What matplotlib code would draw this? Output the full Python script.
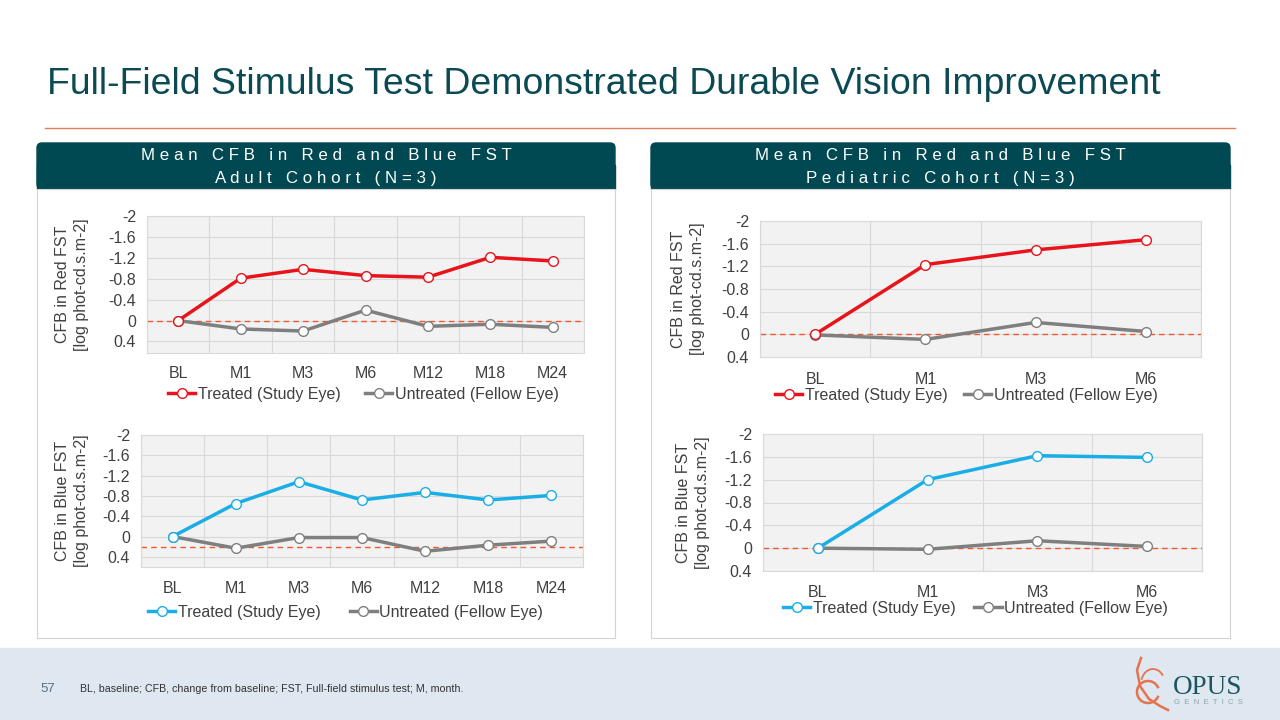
import numpy as np
import matplotlib.pyplot as plt
from matplotlib.patches import FancyBboxPatch, Rectangle, Arc
from matplotlib.lines import Line2D

plt.rcParams['font.family'] = ['Liberation Sans', 'DejaVu Sans']

W, H = 1280, 720

# --- data ---
adult_visits = ['BL', 'M1', 'M3', 'M6', 'M12', 'M18', 'M24']
ped_visits = ['BL', 'M1', 'M3', 'M6']

adult_red_treated = [0, -0.81, -0.98, -0.86, -0.83, -1.21, -1.14]
adult_red_untreated = [0, 0.16, 0.20, -0.20, 0.11, 0.07, 0.13]
adult_blue_treated = [0, -0.65, -1.08, -0.72, -0.87, -0.72, -0.81]
adult_blue_untreated = [0, 0.23, 0.02, 0.02, 0.29, 0.17, 0.09]

ped_red_treated = [0, -1.23, -1.49, -1.67]
ped_red_untreated = [0.01, 0.09, -0.21, -0.05]
ped_blue_treated = [0, -1.20, -1.62, -1.59]
ped_blue_untreated = [0, 0.02, -0.13, -0.03]

ref_lines = {'adult_red': 0.0, 'adult_blue': 0.2, 'ped_red': 0.0, 'ped_blue': 0.0}

y_ticks = [-2, -1.6, -1.2, -0.8, -0.4, 0, 0.4]
y_tick_labels = ['-2', '-1.6', '-1.2', '-0.8', '-0.4', '0', '0.4']

RED = '#e8141b'
BLUE = '#1aaee6'
GRAY = '#7f7f7f'
TEAL = '#004852'
TXT = '#404040'
FS = 11.5

fig = plt.figure(figsize=(12.8, 7.2), dpi=100)

# background layer in pixel coordinates
bg = fig.add_axes([0, 0, 1, 1])
bg.set_xlim(0, W)
bg.set_ylim(H, 0)
bg.axis('off')

bg.text(47, 94, 'Full-Field Stimulus Test Demonstrated Durable Vision Improvement',
        fontsize=26.9, color='#0b4953', va='baseline', ha='left')
bg.plot([45, 1235], [128, 128], color='#e07b5c', lw=1)

# footer band
bg.add_patch(Rectangle((0, 648), W, 72, color='#dfe7f0', zorder=0))
bg.text(40, 689, '57', fontsize=9.5, color='#5b7083', va='center')
bg.text(80, 689, 'BL, baseline; CFB, change from baseline; FST, Full-field stimulus test; M, month.',
        fontsize=7.7, color='#333333', va='center')

# logo
ORANGE = '#e5734f'
bg.add_patch(Arc((1148, 692), 22, 22, theta1=20, theta2=340, color=ORANGE, lw=1.8))
bg.add_patch(Arc((1153, 684), 24, 30, theta1=200, theta2=320, color=ORANGE, lw=1.3))
bg.plot([1141, 1137, 1140, 1149, 1160, 1168], [658, 670, 686, 699, 706, 710], color=ORANGE, lw=1.8)
bg.text(1208, 688, 'OPUS', family=['Liberation Serif', 'DejaVu Serif'], fontsize=19.5,
        color='#1a5560', ha='center', va='center')
bg.text(1208, 703, 'G  E  N  E  T  I  C  S', fontsize=5.6, color='#94a2ab', ha='center', va='center')


def spaced(line):
    return '   '.join(' '.join(w) for w in line.split(' '))


def panel(x0, x1, line1, line2):
    bg.add_patch(FancyBboxPatch((x0, 143), x1 - x0, 46, boxstyle='round,pad=0,rounding_size=5',
                                color=TEAL, zorder=1))
    bg.add_patch(Rectangle((x0, 165), x1 - x0, 24, color=TEAL, zorder=1))
    bg.add_patch(Rectangle((x0, 189), x1 - x0, 449, facecolor='white', edgecolor='#d4d4d4',
                           lw=0.8, zorder=1))
    cx = (x0 + x1) / 2
    bg.text(cx, 156, spaced(line1), color='white', fontsize=12.2, ha='center', va='center', zorder=2)
    bg.text(cx, 179, spaced(line2), color='white', fontsize=12.2, ha='center', va='center', zorder=2)


panel(37, 615, 'Mean CFB in Red and Blue FST', 'Adult Cohort (N=3)')
panel(651, 1230, 'Mean CFB in Red and Blue FST', 'Pediatric Cohort (N=3)')


def chart(box, visits, treated, untreated, color, ylabel, ybottom, ref, label_x, leg_x, leg_y,
          colspace, xpad):
    x0, y0, x1, y1 = box
    ax = fig.add_axes([x0 / W, 1 - y1 / H, (x1 - x0) / W, (y1 - y0) / H])
    ax.set_facecolor('#f2f2f2')
    xs = np.arange(len(visits))
    ax.axhline(ref, color='#ec5a34', lw=1.0, ls=(0, (4, 3)), zorder=2)
    ax.plot(xs, untreated, color=GRAY, lw=2.5, marker='o', ms=7, mfc='white', mec=GRAY, mew=1, zorder=3)
    ax.plot(xs, treated, color=color, lw=2.5, marker='o', ms=7, mfc='white', mec=color, mew=1, zorder=4)
    ax.set_xlim(-0.5, len(visits) - 0.5)
    ax.set_ylim(ybottom, -2)
    ax.set_yticks(y_ticks)
    ax.set_yticklabels(y_tick_labels)
    ax.set_xticks(xs)
    ax.set_xticklabels(visits)
    ax.set_xticks(np.arange(len(visits) + 1) - 0.5, minor=True)
    ax.set_axisbelow(True)
    ax.grid(True, axis='y', color='#d9d9d9', lw=0.8)
    ax.grid(True, axis='x', which='minor', color='#d9d9d9', lw=0.8)
    ax.tick_params(which='both', length=0, labelsize=FS, labelcolor=TXT)
    ax.tick_params(axis='x', pad=xpad)
    ax.tick_params(axis='y', pad=8)
    for s in ax.spines.values():
        s.set_color('#d9d9d9')
        s.set_linewidth(0.8)
    fig.text(label_x / W, 1 - ((y0 + y1) / 2) / H, ylabel, rotation=90, fontsize=FS, color=TXT,
             ha='center', va='center', linespacing=1.35)
    handles = [
        Line2D([], [], color=color, lw=2.5, marker='o', ms=7, mfc='white', mec=color, mew=1),
        Line2D([], [], color=GRAY, lw=2.5, marker='o', ms=7, mfc='white', mec=GRAY, mew=1),
    ]
    ax.legend(handles, ['Treated (Study Eye)', 'Untreated (Fellow Eye)'], loc='center left',
              bbox_to_anchor=(leg_x / W, 1 - leg_y / H), bbox_transform=fig.transFigure,
              ncol=2, frameon=False, fontsize=FS, handlelength=1.7, handletextpad=0.15,
              columnspacing=colspace, labelcolor=TXT, borderpad=0, borderaxespad=0)
    return ax


chart((147, 216, 584, 353), adult_visits, adult_red_treated, adult_red_untreated, RED,
      'CFB in Red FST\n[log phot-cd.s.m-2]', 0.62, ref_lines['adult_red'], 72, 168, 394, 1.55, 9)
chart((141, 435, 583, 567), adult_visits, adult_blue_treated, adult_blue_untreated, BLUE,
      'CFB in Blue FST\n[log phot-cd.s.m-2]', 0.6, ref_lines['adult_blue'], 72, 148, 612, 1.85, 10)
chart((760, 221, 1201, 357), ped_visits, ped_red_treated, ped_red_untreated, RED,
      'CFB in Red FST\n[log phot-cd.s.m-2]', 0.4, ref_lines['ped_red'], 688, 775, 395, 1.05, 10.5)
chart((763, 434, 1202, 571), ped_visits, ped_blue_treated, ped_blue_untreated, BLUE,
      'CFB in Blue FST\n[log phot-cd.s.m-2]', 0.4, ref_lines['ped_blue'], 693, 783, 608, 1.2, 10)

fig.savefig('out.png', dpi=100)
